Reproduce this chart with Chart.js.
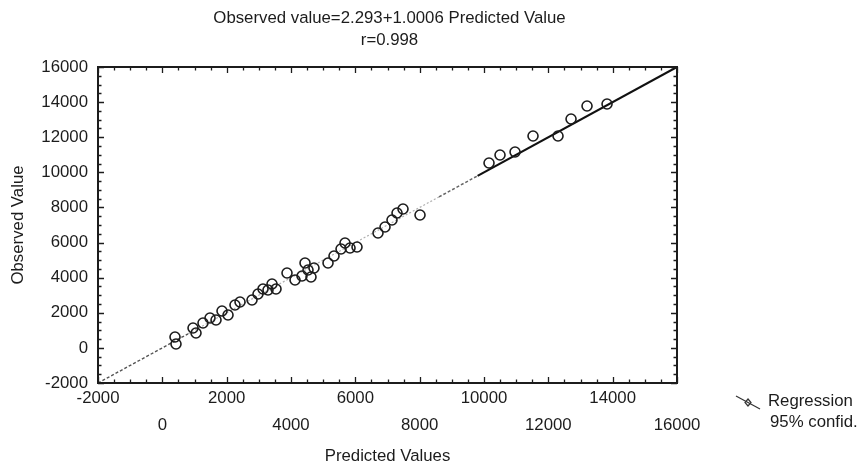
<!DOCTYPE html>
<html>
<head>
<meta charset="utf-8">
<script src="https://cdn.jsdelivr.net/npm/chart.js@4.4.1/dist/chart.umd.min.js"></script>
<style>
  html, body { margin: 0; padding: 0; background: #fff; }
  #wrap { width: 860px; height: 468px; }
</style>
</head>
<body>
<div id="wrap"><canvas id="chart" width="860" height="468"></canvas></div>
<script>
// chart text
const titleLines = ['Observed value=2.293+1.0006 Predicted Value', 'r=0.998'];
const xAxisTitle = 'Predicted Values';
const yAxisTitle = 'Observed Value';
const legendLines = ['Regression', '95% confid.'];

// axis range / ticks
const axisMin = -2000;
const axisMax = 16000;
const majorStep = 2000;
const minorStep = 500;

// observed vs predicted
const predicted = [394, 425, 954, 1047, 1264, 1482, 1669, 1855, 2042, 2259,
  2415, 2788, 2974, 3130, 3285, 3410, 3534, 3876, 4125, 4342,
  4436, 4529, 4622, 4715, 5151, 5337, 5555, 5679, 5835, 6052,
  6705, 6923, 7140, 7296, 7482, 8011, 10156, 10498, 10965, 11524,
  12301, 12706, 13203, 13825];
const observed = [620, 221, 1133, 848, 1418, 1702, 1588, 2101, 1873, 2443,
  2614, 2728, 3069, 3354, 3297, 3639, 3354, 4266, 3867, 4095,
  4835, 4436, 4038, 4550, 4835, 5234, 5633, 5974, 5690, 5747,
  6544, 6886, 7284, 7683, 7911, 7569, 10531, 10987, 11158, 12069,
  12069, 13037, 13778, 13892];

// regression line, split where its drawn style changes
const regressionX = [-2000, 800, 8600, 9800, 16000];
const regressionY = [-2000, 800, 8600, 9800, 16000];

const ink = '#1c1c1c';
const fontFamily = '"Liberation Sans", Arial, Helvetica, sans-serif';
const fontSize = 16.8;

const segColors = ['#555', '#b0b0b0', '#666', '#111'];
const segWidths = [1.4, 1.2, 1.5, 2.2];
const segDash = [[3, 2], [2, 2], [3, 2], []];

const points = predicted.map((p, i) => ({ x: p, y: observed[i] }));
const regression = regressionX.map((x, i) => ({ x: x, y: regressionY[i] }));

// frame with inward ticks, title and legend
const framePlugin = {
  id: 'frame',
  afterDraw(chart) {
    const ctx = chart.ctx;
    const area = chart.chartArea;
    const xs = chart.scales.x;
    const ys = chart.scales.y;
    ctx.save();
    ctx.strokeStyle = ink;
    ctx.lineWidth = 2;
    ctx.strokeRect(area.left, area.top, area.right - area.left, area.bottom - area.top);

    ctx.lineWidth = 1.3;
    ctx.beginPath();
    for (let v = axisMin; v <= axisMax; v += minorStep) {
      const len = v % majorStep === 0 ? 6 : 3.5;
      const px = Math.round(xs.getPixelForValue(v)) + 0.5;
      const py = Math.round(ys.getPixelForValue(v)) + 0.5;
      ctx.moveTo(px, area.bottom); ctx.lineTo(px, area.bottom - len);
      ctx.moveTo(px, area.top); ctx.lineTo(px, area.top + len);
      ctx.moveTo(area.left, py); ctx.lineTo(area.left + len, py);
      ctx.moveTo(area.right, py); ctx.lineTo(area.right - len, py);
    }
    ctx.stroke();

    // title
    ctx.fillStyle = ink;
    ctx.font = fontSize + 'px ' + fontFamily;
    ctx.textAlign = 'center';
    ctx.textBaseline = 'middle';
    const cx = (area.left + area.right) / 2 + 2;
    titleLines.forEach((t, i) => ctx.fillText(t, cx, 18 + i * 22));

    // legend
    ctx.textAlign = 'left';
    ctx.fillText(legendLines[0], 768, 401);
    ctx.fillText(legendLines[1], 770, 422);
    ctx.strokeStyle = '#333';
    ctx.lineWidth = 1.2;
    ctx.beginPath();
    ctx.moveTo(736, 396);
    ctx.lineTo(760, 409);
    ctx.stroke();
    ctx.beginPath();
    ctx.moveTo(748, 399); ctx.lineTo(751, 402.5); ctx.lineTo(748, 406); ctx.lineTo(745, 402.5);
    ctx.closePath();
    ctx.stroke();
    ctx.restore();
  }
};

new Chart(document.getElementById('chart'), {
  type: 'scatter',
  data: {
    datasets: [
      {
        label: 'Regression',
        data: regression,
        showLine: true,
        pointRadius: 0,
        borderColor: '#888',
        borderWidth: 1.2,
        segment: {
          borderColor: c => segColors[c.p0DataIndex],
          borderWidth: c => segWidths[c.p0DataIndex],
          borderDash: c => segDash[c.p0DataIndex]
        },
        order: 2
      },
      {
        label: 'Observed',
        data: points,
        pointStyle: 'circle',
        pointRadius: 5,
        borderColor: ink,
        borderWidth: 1.6,
        backgroundColor: 'rgba(0,0,0,0)',
        order: 1
      }
    ]
  },
  options: {
    responsive: false,
    animation: false,
    layout: { padding: { left: 0, right: 183, top: 67, bottom: 0 } },
    plugins: {
      legend: { display: false },
      title: { display: false },
      tooltip: { enabled: false }
    },
    scales: {
      x: {
        type: 'linear',
        position: 'bottom',
        min: axisMin,
        max: axisMax,
        afterFit: s => { s.height = 85; },
        grid: { display: false, drawTicks: false },
        border: { display: false },
        ticks: {
          stepSize: majorStep,
          autoSkip: false,
          maxRotation: 0,
          padding: 2,
          color: ink,
          font: { family: fontFamily, size: fontSize, lineHeight: 1.62 },
          callback: (v, i) => i % 2 === 0 ? [String(v), ''] : ['', String(v)]
        },
        title: {
          display: true,
          text: xAxisTitle,
          color: ink,
          font: { family: fontFamily, size: fontSize },
          padding: { top: 0, bottom: 2 }
        }
      },
      y: {
        type: 'linear',
        min: axisMin,
        max: axisMax,
        afterFit: s => { s.width = 98; },
        grid: { display: false, drawTicks: false },
        border: { display: false },
        ticks: {
          stepSize: majorStep,
          padding: 10,
          color: ink,
          font: { family: fontFamily, size: fontSize },
          callback: v => String(v)
        },
        title: {
          display: true,
          text: yAxisTitle,
          color: ink,
          font: { family: fontFamily, size: fontSize },
          padding: { top: 8, bottom: 0 }
        }
      }
    }
  },
  plugins: [framePlugin]
});
</script>
</body>
</html>
